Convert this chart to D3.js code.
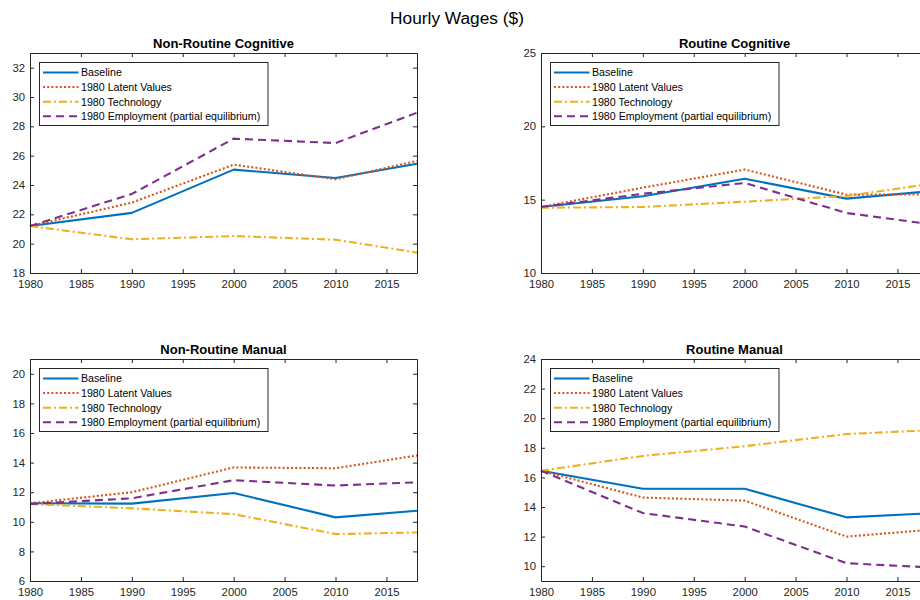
<!DOCTYPE html>
<html>
<head>
<meta charset="utf-8">
<script src="https://cdn.jsdelivr.net/npm/d3@7"></script>
<style>
  body { margin: 0; background: #fff; }
  svg { display: block; font-family: "Liberation Sans", Arial, Helvetica, sans-serif; }
</style>
</head>
<body>
<svg id="chart" width="920" height="600"></svg>
<script>
const years = [1980, 1990, 2000, 2010, 2018];
const xTicks = [1980, 1985, 1990, 1995, 2000, 2005, 2010, 2015];
const seriesNames = ["Baseline", "1980 Latent Values", "1980 Technology", "1980 Employment (partial equilibrium)"];
const panelTitles = ["Non-Routine Cognitive", "Routine Cognitive", "Non-Routine Manual", "Routine Manual"];

// Non-Routine Cognitive
const nrcBaseline   = [21.2, 22.1, 25.05, 24.48, 25.45];
const nrcLatent     = [21.2, 22.8, 25.39, 24.39, 25.64];
const nrcTechnology = [21.2, 20.3, 20.52, 20.27, 19.39];
const nrcEmployment = [21.2, 23.39, 27.16, 26.86, 28.93];
const nrcYDomain = [18, 33];
const nrcYTicks = [18, 20, 22, 24, 26, 28, 30, 32];

// Routine Cognitive
const rcBaseline   = [14.5, 15.23, 16.43, 15.07, 15.56];
const rcLatent     = [14.5, 15.82, 17.05, 15.34, 15.36];
const rcTechnology = [14.45, 14.5, 14.86, 15.25, 16.05];
const rcEmployment = [14.5, 15.4, 16.14, 14.09, 13.35];
const rcYDomain = [10, 25];
const rcYTicks = [10, 15, 20, 25];

// Non-Routine Manual
const nrmBaseline   = [11.25, 11.23, 11.95, 10.3, 10.75];
const nrmLatent     = [11.25, 12.0, 13.67, 13.62, 14.48];
const nrmTechnology = [11.2, 10.91, 10.52, 9.17, 9.28];
const nrmEmployment = [11.2, 11.59, 12.81, 12.45, 12.67];
const nrmYDomain = [6, 21];
const nrmYTicks = [6, 8, 10, 12, 14, 16, 18, 20];

// Routine Manual
const rmBaseline   = [16.45, 15.23, 15.23, 13.3, 13.57];
const rmLatent     = [16.45, 14.64, 14.43, 12.0, 12.45];
const rmTechnology = [16.45, 17.45, 18.11, 18.93, 19.18];
const rmEmployment = [16.45, 13.59, 12.68, 10.2, 9.93];
const rmYDomain = [9, 24];
const rmYTicks = [10, 12, 14, 16, 18, 20, 22, 24];

const panels = [
  { title: panelTitles[0], series: [nrcBaseline, nrcLatent, nrcTechnology, nrcEmployment], yDomain: nrcYDomain, yTicks: nrcYTicks, left: 30, top: 53, bottom: 273 },
  { title: panelTitles[1], series: [rcBaseline, rcLatent, rcTechnology, rcEmployment], yDomain: rcYDomain, yTicks: rcYTicks, left: 541, top: 53, bottom: 273 },
  { title: panelTitles[2], series: [nrmBaseline, nrmLatent, nrmTechnology, nrmEmployment], yDomain: nrmYDomain, yTicks: nrmYTicks, left: 30, top: 359, bottom: 581 },
  { title: panelTitles[3], series: [rmBaseline, rmLatent, rmTechnology, rmEmployment], yDomain: rmYDomain, yTicks: rmYTicks, left: 541, top: 359, bottom: 581 }
];

const colors = ["#0072BD", "#D95319", "#EDB120", "#7E2F8E"];
const dashes = [null, "2,2.2", "8,3,2,3", "8,5"];
const axisColor = "#262626";
const panelWidth = 387;
const tickLen = 4;

const svg = d3.select("#chart");

svg.append("text")
  .attr("x", 457).attr("y", 23.5)
  .attr("text-anchor", "middle")
  .attr("font-size", 17.3)
  .attr("fill", "#000")
  .text("Hourly Wages ($)");

panels.forEach(p => {
  const x = d3.scaleLinear().domain([1980, 2018]).range([p.left, p.left + panelWidth]);
  const y = d3.scaleLinear().domain(p.yDomain).range([p.bottom, p.top]);
  const g = svg.append("g");

  const line = d3.line().x((d, i) => x(years[i])).y(d => y(d));
  p.series.forEach((s, k) => {
    g.append("path")
      .attr("d", line(s))
      .attr("fill", "none")
      .attr("stroke", colors[k])
      .attr("stroke-width", 2.1)
      .attr("stroke-dasharray", dashes[k])
      .attr("stroke-linejoin", "round");
  });

  const styleAxis = sel => {
    sel.selectAll(".domain").attr("stroke", axisColor);
    sel.selectAll(".tick line").attr("stroke", axisColor);
    sel.selectAll(".tick text").attr("fill", axisColor).attr("font-size", 11.3).attr("font-family", "Liberation Sans, Arial, sans-serif");
  };
  g.append("g").attr("transform", `translate(0,${p.bottom})`)
    .call(d3.axisBottom(x).tickValues(xTicks).tickFormat(d3.format("d")).tickSizeInner(-tickLen).tickSizeOuter(0).tickPadding(7))
    .call(styleAxis);
  g.append("g").attr("transform", `translate(0,${p.top})`)
    .call(d3.axisTop(x).tickValues(xTicks).tickFormat("").tickSizeInner(-tickLen).tickSizeOuter(0))
    .call(styleAxis);
  g.append("g").attr("transform", `translate(${p.left},0)`)
    .call(d3.axisLeft(y).tickValues(p.yTicks).tickFormat(d3.format("d")).tickSizeInner(-tickLen).tickSizeOuter(0).tickPadding(5))
    .call(styleAxis);
  g.append("g").attr("transform", `translate(${p.left + panelWidth},0)`)
    .call(d3.axisRight(y).tickValues(p.yTicks).tickFormat("").tickSizeInner(-tickLen).tickSizeOuter(0))
    .call(styleAxis);

  g.append("text")
    .attr("x", p.left + panelWidth / 2).attr("y", p.top - 5.5)
    .attr("text-anchor", "middle")
    .attr("font-size", 13)
    .attr("font-weight", "bold")
    .attr("fill", "#000")
    .text(p.title);

  const lx = p.left + 9.5, ly = p.top + 9.5;
  const lg = g.append("g");
  lg.append("rect")
    .attr("x", lx).attr("y", ly)
    .attr("width", 228.5).attr("height", 63)
    .attr("fill", "#fff").attr("stroke", "#262626").attr("stroke-width", 1);
  seriesNames.forEach((name, k) => {
    const yy = ly + 10 + k * 14.6;
    lg.append("line")
      .attr("x1", lx + 3.5).attr("x2", lx + 39)
      .attr("y1", yy).attr("y2", yy)
      .attr("stroke", colors[k]).attr("stroke-width", 2)
      .attr("stroke-dasharray", dashes[k]);
    lg.append("text")
      .attr("x", lx + 41.5).attr("y", yy + 3.8)
      .attr("font-size", 10.65)
      .attr("fill", "#000")
      .text(name);
  });
});
</script>
</body>
</html>
